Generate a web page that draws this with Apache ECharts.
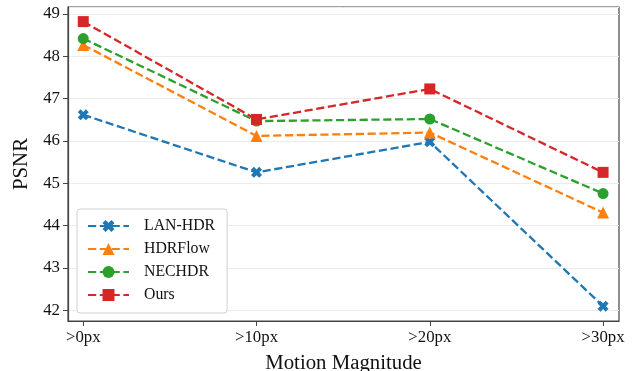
<!DOCTYPE html>
<html>
<head>
<meta charset="utf-8">
<script src="https://cdn.jsdelivr.net/npm/echarts@6/dist/echarts.min.js"></script>
<style>
html,body{margin:0;padding:0;background:#fff;}
#chart{width:633px;height:371px;}
</style>
</head>
<body>
<div id="chart"></div>
<script>
// 运动幅度分类
var categories = ['>0px', '>10px', '>20px', '>30px'];
var lanHdr  = [46.62, 45.26, 45.98, 42.10];
var hdrFlow = [48.27, 46.12, 46.20, 44.31];
var necHdr  = [48.42, 46.47, 46.52, 44.76];
var ours    = [48.82, 46.51, 47.23, 45.26];

var FONT = 'Liberation Serif, Times New Roman, serif';
// 粗体X标记
var xMark = 'path://M0,2.6 L2.6,0 L5,2.4 L7.4,0 L10,2.6 L7.6,5 L10,7.4 L7.4,10 L5,7.6 L2.6,10 L0,7.4 L2.4,5 Z';

function toPairs(arr){
	return arr.map(function(v, i){ return [i, v]; });
}

function makeSeries(name, arr, color, symbol, size){
	return {
		name: name,
		type: 'line',
		data: toPairs(arr),
		symbol: symbol,
		symbolSize: size,
		itemStyle: { color: color },
		lineStyle: { color: color, width: 2.3, type: [8.2, 3.6] },
		emphasis: { disabled: true },
		animation: false
	};
}

var chart = echarts.init(document.getElementById('chart'));
var options = {
	backgroundColor: '#ffffff',
	textStyle: { fontFamily: FONT },
	grid: {
		left: 68, right: 14, top: 7, bottom: 50,
		outerBoundsMode: 'none',
		containLabel: false,
		show: true,
		borderColor: '#444',
		borderWidth: 1.2
	},
	legend: {
		orient: 'vertical',
		left: 77,
		top: 209,
		padding: [9, 12, 10, 10],
		itemGap: 7,
		itemWidth: 41,
		itemHeight: 15,
		backgroundColor: '#fff',
		borderColor: '#d0d0d0',
		borderWidth: 1,
		borderRadius: 3,
		textStyle: { fontFamily: FONT, fontSize: 15.8, color: '#111', padding: [0, 0, 0, 10] },
		data: ['LAN-HDR', 'HDRFlow', 'NECHDR', 'Ours']
	},
	xAxis: {
		type: 'value',
		min: -0.088,
		max: 3.092,
		name: 'Motion Magnitude',
		nameLocation: 'middle',
		nameGap: 32,
		nameTextStyle: { fontFamily: FONT, fontSize: 20.8, color: '#111' },
		axisLine: { show: true, onZero: false, lineStyle: { color: '#444', width: 1.2 } },
		axisTick: { show: true, customValues: [0, 1, 2, 3], length: 5, lineStyle: { color: '#444' } },
		axisLabel: {
			customValues: [0, 1, 2, 3],
			fontFamily: FONT, fontSize: 16.8, color: '#111', margin: 8,
			formatter: function(v){ return categories[Math.round(v)]; }
		},
		splitLine: { show: false }
	},
	yAxis: {
		type: 'value',
		min: 41.75,
		max: 49.165,
		minInterval: 1,
		maxInterval: 1,
		name: 'PSNR',
		nameLocation: 'middle',
		nameGap: 34,
		nameTextStyle: { fontFamily: FONT, fontSize: 20.8, color: '#111' },
		axisLine: { show: true, onZero: false, lineStyle: { color: '#444', width: 1.2 } },
		axisTick: { show: true, length: 5, lineStyle: { color: '#444' } },
		axisLabel: { fontFamily: FONT, fontSize: 16.8, color: '#111', margin: 8, showMinLabel: false, showMaxLabel: false },
		splitLine: { show: true, lineStyle: { color: '#ebebeb', width: 1 } }
	},
	series: [
		makeSeries('LAN-HDR', lanHdr, '#1f77b4', xMark, 11),
		makeSeries('HDRFlow', hdrFlow, '#ff7f0e', 'triangle', 12),
		makeSeries('NECHDR', necHdr, '#2ca02c', 'circle', 11),
		makeSeries('Ours', ours, '#d62728', 'rect', 11)
	]
};
chart.setOption(options);
</script>
</body>
</html>
